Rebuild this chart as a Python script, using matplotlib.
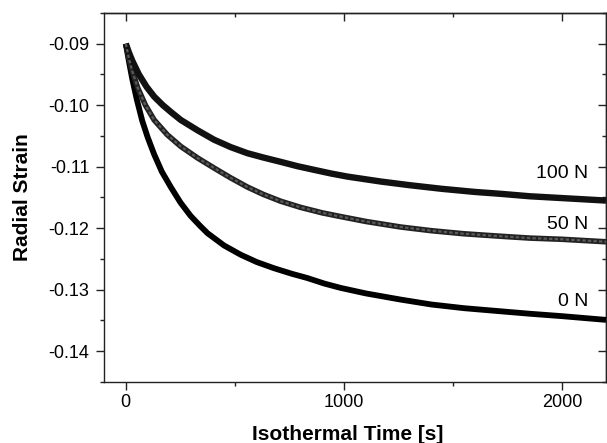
import matplotlib
matplotlib.use("Agg")
import matplotlib.pyplot as plt
from matplotlib.ticker import MultipleLocator

plt.rcParams['font.family'] = ['Liberation Sans', 'DejaVu Sans']

# Data (time in s, radial strain)
t_0N = [0, 15, 30, 50, 75, 100, 130, 165, 206, 250, 297, 340, 374, 450, 526,
        600, 679, 760, 832, 910, 984, 1100, 1259, 1400, 1550, 1716, 1850,
        2000, 2100, 2200]
s_0N = [-0.0900, -0.0930, -0.0958, -0.0990, -0.1025, -0.1052, -0.1080, -0.1108,
        -0.1133, -0.1158, -0.1180, -0.1196, -0.1208, -0.1228, -0.1243,
        -0.1255, -0.1265, -0.1274, -0.1281, -0.1290, -0.1297, -0.1306,
        -0.1316, -0.1324, -0.1330, -0.1335, -0.1339, -0.1343, -0.1346, -0.1349]

t_50N = [0, 15, 30, 55, 90, 130, 190, 252, 330, 404, 480, 557, 630, 709, 800,
         900, 984, 1100, 1259, 1400, 1550, 1716, 1850, 2000, 2100, 2200]
s_50N = [-0.0900, -0.0925, -0.0945, -0.0972, -0.1000, -0.1024, -0.1048, -0.1067,
         -0.1086, -0.1102, -0.1118, -0.1133, -0.1145, -0.1156, -0.1166,
         -0.1175, -0.1181, -0.1189, -0.1198, -0.1204, -0.1209, -0.1213,
         -0.1216, -0.1218, -0.1220, -0.1222]

t_100N = [0, 15, 30, 60, 95, 130, 170, 210, 252, 330, 404, 480, 557, 630, 709,
          785, 862, 940, 1015, 1167, 1300, 1450, 1600, 1716, 1850, 2000, 2100, 2200]
s_100N = [-0.0900, -0.0915, -0.0928, -0.0950, -0.0970, -0.0986, -0.1000, -0.1012,
          -0.1024, -0.1041, -0.1056, -0.1068, -0.1078, -0.1085, -0.1092,
          -0.1099, -0.1105, -0.1111, -0.1116, -0.1124, -0.1130, -0.1136,
          -0.1141, -0.1144, -0.1148, -0.1151, -0.1153, -0.1155]

labels = ["0 N", "50 N", "100 N"]
label_t = [2119, 2119, 2119]
label_s = [-0.1327, -0.1202, -0.1118]

x_ticks = [0, 1000, 2000]
y_ticks = [-0.09, -0.10, -0.11, -0.12, -0.13, -0.14]
y_ticklabels = ["-0.09", "-0.10", "-0.11", "-0.12", "-0.13", "-0.14"]

fig = plt.figure(figsize=(6.07, 4.43), dpi=100)
ax = fig.add_axes([0.1713, 0.1377, 0.8271, 0.8330])

ax.plot(t_0N, s_0N, color='black', lw=4.2, solid_capstyle='butt',
        solid_joinstyle='round', zorder=3)
ax.plot(t_50N, s_50N, color='#222222', lw=4.0, solid_capstyle='butt',
        solid_joinstyle='round', zorder=3)
ax.plot(t_50N, s_50N, color='#5a5a5a', lw=1.6, ls=(0, (1.5, 1)), zorder=4)
ax.plot(t_100N, s_100N, color='#111111', lw=4.6, solid_capstyle='butt',
        solid_joinstyle='round', zorder=3)

for lab, tx, sy in zip(labels, label_t, label_s):
    ax.text(tx, sy, lab, ha='right', va='baseline', fontsize=14, color='black')

ax.set_xlim(-100, 2200)
ax.set_ylim(-0.145, -0.085)
ax.set_xticks(x_ticks)
ax.set_xticklabels([str(v) for v in x_ticks])
ax.set_yticks(y_ticks)
ax.set_yticklabels(y_ticklabels)
ax.xaxis.set_minor_locator(MultipleLocator(500))
ax.yaxis.set_minor_locator(MultipleLocator(0.005))

ax.tick_params(which='major', direction='out', length=5.5, width=1.0,
               labelsize=13, top=False, right=False, color='#222222')
ax.tick_params(which='minor', direction='out', length=3.2, width=1.0,
               top=False, right=False, color='#222222')
ax.tick_params(axis='x', which='major', pad=3.5)
ax.tick_params(axis='y', which='major', pad=5)

# inward ticks on top and right
secx = ax.secondary_xaxis('top')
secx.set_xticks(x_ticks)
secx.xaxis.set_minor_locator(MultipleLocator(500))
secx.tick_params(which='major', direction='in', length=5.5, width=1.0, labeltop=False, color='#222222')
secx.tick_params(which='minor', direction='in', length=3.2, width=1.0, color='#222222')
secy = ax.secondary_yaxis('right')
secy.set_yticks(y_ticks)
secy.yaxis.set_minor_locator(MultipleLocator(0.005))
secy.tick_params(which='major', direction='in', length=5.5, width=1.0, labelright=False, color='#222222')
secy.tick_params(which='minor', direction='in', length=3.2, width=1.0, color='#222222')
for sp in list(ax.spines.values()) + list(secx.spines.values()) + list(secy.spines.values()):
    sp.set_linewidth(1.0)
    sp.set_color('#222222')

ax.set_xlabel("Isothermal Time [s]", fontsize=15, fontweight='bold')
ax.xaxis.label.set_va('baseline')
ax.xaxis.set_label_coords(0.486, -0.157)
ax.set_ylabel("Radial Strain", fontsize=15, fontweight='bold', va='center')
ax.yaxis.set_label_coords(-0.163, 0.5)

fig.savefig("out.png", dpi=100)
